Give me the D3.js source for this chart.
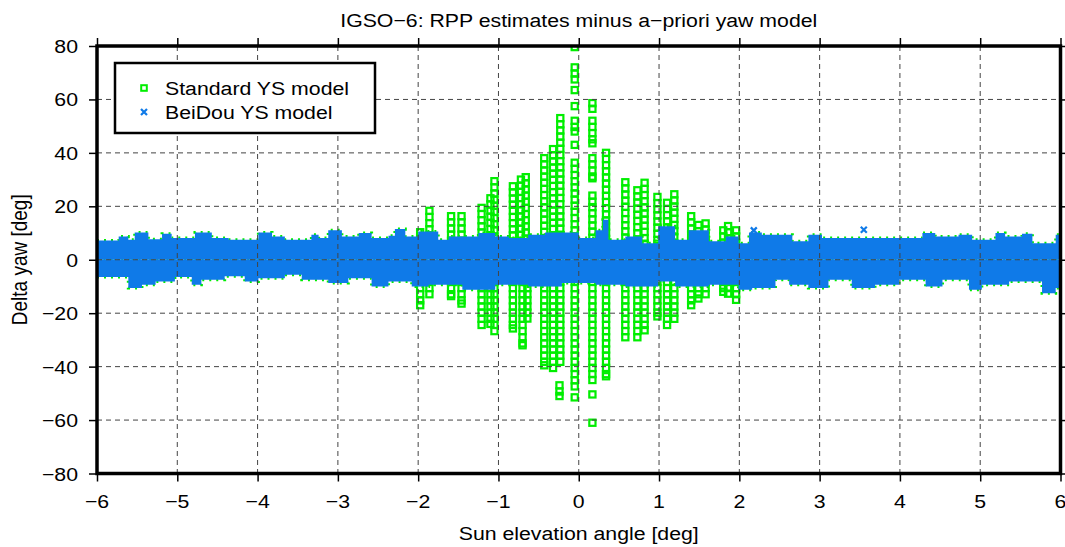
<!DOCTYPE html>
<html><head><meta charset="utf-8">
<script src="https://cdn.jsdelivr.net/npm/d3@7"></script>
<style>body{margin:0;background:#fff;} text{font-family:"Liberation Sans",Arial,Helvetica,sans-serif;fill:#000;}</style>
</head><body><svg id="c" width="1065" height="547"></svg>
<script>
// ---------- data ----------
const xTicks = [-6,-5,-4,-3,-2,-1,0,1,2,3,4,5,6];
const yTicks = [-80,-60,-40,-20,0,20,40,60,80];
const titleText = "IGSO\u22126: RPP estimates minus a\u2212priori yaw model";
const xLabel = "Sun elevation angle [deg]";
const yLabel = "Delta yaw [deg]";
const seriesNames = ["Standard YS model","BeiDou YS model"];

// BeiDou YS model: dense cloud, upper / lower envelope (step starts)
const bandUpX = [-6.0,-5.73,-5.61,-5.53,-5.36,-5.19,-5.07,-4.78,-4.57,-4.36,-3.99,-3.82,-3.66,-3.33,-3.24,-3.12,-2.95,-2.74,-2.58,-2.37,-2.29,-2.16,-2.0,-1.75,-1.62,-1.25,-1.04,-0.87,-0.63,-0.42,
  0.0,0.21,0.30,0.37,0.58,0.79,0.99,1.2,1.37,1.62,1.83,1.99,2.12,2.28,2.66,2.86,3.03,3.94,4.28,4.44,4.73,4.9,5.19,5.31,5.52,5.65,5.94,6.0];
const bandUpY = [7.2,8.7,7.5,10.2,7.7,9.7,8.1,10.2,8.1,7.5,10.2,8.7,7.5,9.4,8.1,11,8.7,10,8.1,9,11.5,8.7,10.6,7.5,8.7,10,8.7,8.1,9.4,10.2,
  8.1,11,15,7.5,8.7,6.2,12.5,7.5,11,6.9,8.7,6.2,10.2,9.4,6.9,9.4,8.1,8.1,10,8.7,9.4,7.5,10,8.7,9.7,6.2,9.4,9.4];
const bandLoX = [-6.0,-5.61,-5.44,-5.27,-5.03,-4.82,-4.7,-4.41,-4.16,-3.99,-3.66,-3.45,-3.12,-2.87,-2.58,-2.37,-2.08,-1.87,-1.45,-1.04,-0.63,-0.21,
  0.0,0.21,0.58,0.99,1.2,1.62,1.99,2.16,2.45,2.62,2.86,3.11,3.4,3.69,3.99,4.32,4.53,4.86,5.02,5.36,5.77,5.94,6.0];
const bandLoY = [-6.5,-10.6,-9.4,-8.1,-6.5,-9.4,-7.5,-6.2,-8.1,-6.9,-5.6,-7.5,-8.7,-6.9,-10,-8.1,-10,-9.4,-11.2,-9.4,-10,-8.7,
  -8.7,-9.4,-10,-8.1,-10,-9.4,-11.2,-10.6,-7.5,-9.4,-10.6,-7.5,-10.6,-9.4,-7.5,-10,-7.5,-11.2,-9.4,-8.1,-12.5,-10.6,-10.6];
// isolated BeiDou points outside the band
const crossX = [2.18, 3.55];
const crossY = [11.0, 11.2];

// Standard YS model: stacks of points (x, highest value, lowest value)
const segX  = [-1.975,-1.86,-1.59,-1.46,-1.21,-1.10,-1.05,-0.82,-0.72,-0.66,-0.43,-0.32,-0.23,-0.05,-0.05,-0.05,-0.05,-0.05,-0.05,-0.05,
  0.17,0.17,0.17,0.17,0.17,0.34,0.58,0.73,0.82,0.98,1.10,1.19,1.40,1.49,1.58,1.80,1.86,1.96,
  -1.975,-1.86,-1.59,-1.46,-1.21,-1.10,-1.05,-0.82,-0.70,-0.64,-0.43,-0.32,-0.23,-0.24,-0.05,-0.05,0.17,0.17,0.17,0.34,0.58,0.73,0.82,0.98,1.10,1.19,1.40,1.49,1.58,1.80,1.86,1.96];
const segHi = [10.3,18.3,16.3,16.3,19.4,23,29.4,27.5,30,30.9,38,41.4,53,36.3,52,43,57.5,63.5,72,79.6,
  58.6,52,38,24,17.4,40,29,26,28.8,23.5,21.3,24.5,16.3,13,13.6,11,12.6,11,
  -6,-6,-6,-6,-6,-6,-6,-6,-6,-6,-6,-6,-6,-47,-6,-51.5,-6,-50.4,-61,-6,-6,-6,-6,-6,-6,-6,-6,-6,-6,-6,-6,-6];
const segLo = [6,6,6,6,6,6,6,6,6,6,6,6,6,6,48,43,57.5,63.5,67.5,79.6,
  56.5,43.6,30.5,19.7,6,6,6,6,6,6,6,6,6,6,6,6,6,6,
  -17,-13.3,-13.6,-16.4,-24.5,-24,-27,-25.7,-32,-22,-39.5,-40.7,-38.8,-51,-47.6,-51.5,-45,-50.4,-61,-43.6,-29.4,-29.4,-26.4,-21.2,-24.9,-22.7,-17,-14.5,-13.3,-12,-12.7,-15];

// ---------- layout ----------
const W = 1065, H = 547;
const L = 97, R = 1060.5, T = 46, B = 473.5;
const green = "#00ee00", blue = "#0f7ae8";
const SX = 1.12, FS = 19;
const SQ = 6.2;

const svg = d3.select("#c");
const x = d3.scaleLinear().domain([-6,6]).range([L,R]);
const y = d3.scaleLinear().domain([-80,80]).range([B,T]);

svg.append("defs").append("clipPath").attr("id","clip")
  .append("rect").attr("x",L).attr("y",T).attr("width",R-L).attr("height",B-T);
const plot = svg.append("g").attr("clip-path","url(#clip)");

// Standard YS model squares
const stdPts = [];
segX.forEach((sx,i)=>{
  const hi = segHi[i], lo = segLo[i];
  let v = hi;
  const step = 2.3;
  while (v >= lo - 0.01) { stdPts.push([sx,v]); v -= step; }
  if (stdPts.length && stdPts[stdPts.length-1][1] > lo + 0.6) stdPts.push([sx,lo]);
});
plot.append("g").selectAll("rect").data(stdPts).join("rect")
  .attr("x",d=>x(d[0])-SQ/2).attr("y",d=>y(d[1])-SQ/2)
  .attr("width",SQ).attr("height",SQ)
  .attr("fill","none").attr("stroke",green).attr("stroke-width",2.2);

// band areas
const upPts = bandUpX.map((v,i)=>[v,bandUpY[i]]);
const loPts = bandLoX.map((v,i)=>[v,bandLoY[i]]);
const area = d3.area().x(d=>x(d[0])).y0(y(0)).y1(d=>y(d[1])).curve(d3.curveStepAfter);
// green fringe (standard model points hidden under the band)
[upPts,loPts].forEach(p=>{
  plot.append("path").attr("d",area(p)).attr("fill","none")
    .attr("stroke",green).attr("stroke-width",3).attr("stroke-dasharray","2,5");
});
[upPts,loPts].forEach(p=>{
  plot.append("path").attr("d",area(p)).attr("fill",blue).attr("stroke","none");
});
// isolated crosses
const cross = (g,cx,cy,s)=>{
  g.append("path").attr("d",`M${cx-s},${cy-s}L${cx+s},${cy+s}M${cx-s},${cy+s}L${cx+s},${cy-s}`)
   .attr("stroke",blue).attr("stroke-width",2.2).attr("fill","none");
};
crossX.forEach((cx,i)=>cross(plot,x(cx),y(crossY[i]),3));

// grid
const grid = svg.append("g").attr("stroke","#444").attr("stroke-width",1).attr("stroke-dasharray","5,4");
xTicks.slice(1,-1).forEach(t=>grid.append("line").attr("x1",x(t)).attr("x2",x(t)).attr("y1",T).attr("y2",B));
yTicks.slice(1,-1).forEach(t=>grid.append("line").attr("y1",y(t)).attr("y2",y(t)).attr("x1",L).attr("x2",R));

// axes with ticks on all sides
const fmt = d=> (d<0? "\u2212"+Math.abs(d) : ""+d);
const axB = d3.axisBottom(x).tickValues(xTicks).tickSize(8).tickFormat("");
const axT = d3.axisTop(x).tickValues(xTicks).tickSize(8).tickFormat("");
const axL = d3.axisLeft(y).tickValues(yTicks).tickSize(8).tickFormat("");
const axR = d3.axisRight(y).tickValues(yTicks).tickSize(8).tickFormat("");
[[axB,`translate(0,${B})`],[axT,`translate(0,${T})`],[axL,`translate(${L},0)`],[axR,`translate(${R},0)`]].forEach(([a,tr])=>{
  const g = svg.append("g").attr("transform",tr).call(a);
  g.select(".domain").remove();
  g.selectAll("line").attr("stroke","#000").attr("stroke-width",1.5);
});
svg.append("rect").attr("x",L).attr("y",T).attr("width",R-L).attr("height",B-T)
  .attr("fill","none").attr("stroke","#000").attr("stroke-width",3.5);

// text helper (horizontal stretch like the reference)
const txt = (g,tx,ty,s,anchor,size)=>g.append("text")
  .attr("transform",`translate(${tx},${ty}) scale(${SX},1)`)
  .attr("text-anchor",anchor).attr("font-size",size||FS).text(s);

xTicks.forEach(t=>txt(svg,x(t),508,fmt(t),"middle"));
yTicks.forEach(t=>txt(svg,78,y(t)+7,fmt(t),"end"));
txt(svg,(L+R)/2,27,titleText,"middle");
txt(svg,(L+R)/2,540,xLabel,"middle");
svg.append("text").attr("transform",`translate(27,${(T+B)/2}) rotate(-90) scale(1,${SX})`)
  .attr("text-anchor","middle").attr("font-size",FS).text(yLabel);

// legend
const lg = svg.append("g");
lg.append("rect").attr("x",115).attr("y",63).attr("width",260).attr("height",70)
  .attr("fill","#fff").attr("stroke","#000").attr("stroke-width",2.5);
lg.append("rect").attr("x",144-2.8).attr("y",88-2.8).attr("width",5.6).attr("height",5.6)
  .attr("fill","none").attr("stroke",green).attr("stroke-width",2);
cross(lg,144,112,3);
txt(lg,165,95,seriesNames[0],"start");
txt(lg,165,119,seriesNames[1],"start");
</script></body></html>
